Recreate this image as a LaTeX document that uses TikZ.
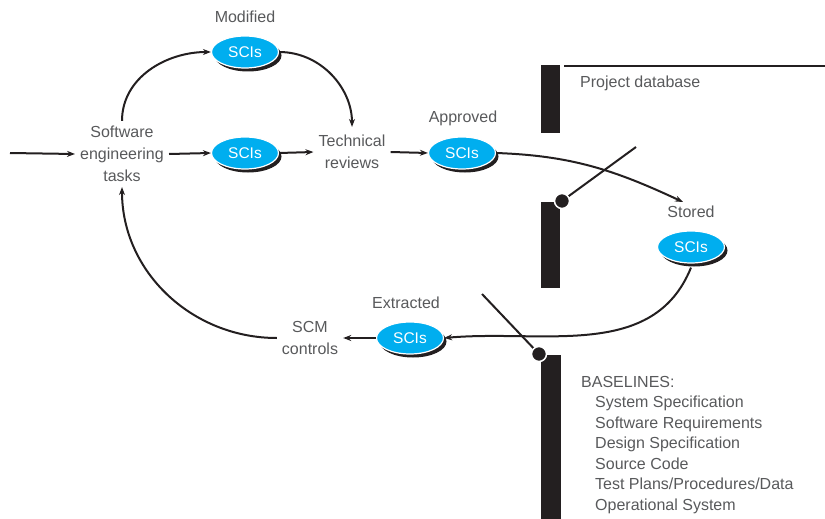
\documentclass[tikz,border=0pt]{standalone}
\usepackage{fontspec}
\setmainfont{Liberation Sans}
\usetikzlibrary{shapes.geometric,shadows,arrows.meta}
\definecolor{scicyan}{HTML}{00AEEF}
\definecolor{txtgray}{HTML}{58595B}
\definecolor{ink}{HTML}{231F20}
\begin{document}
\begin{tikzpicture}[x=1pt,y=-1pt,
 sci/.style={ellipse, fill=scicyan, draw=white, line width=1.2pt, minimum width=67pt, minimum height=32pt, inner sep=0pt, text=white, font=\fontsize{15.5}{15.5}\selectfont, drop shadow={shadow xshift=3pt, shadow yshift=-3.5pt, fill=ink, opacity=1}},
 lbl/.style={text=txtgray, font=\fontsize{16}{22}\selectfont, align=center, inner sep=5pt},
 arr/.style={draw=ink, line width=2pt, -{Stealth[length=8pt,width=6pt]}},
 bar/.style={fill=ink},
 swline/.style={draw=ink, line width=2pt},
 dot/.style={fill=ink, draw=white, line width=1.5pt},
]
\useasboundingbox (0,0) rectangle (825,519);

% database bars
\fill[bar] (541,65) rectangle (560,133);
\fill[bar] (541,202) rectangle (560,288);
\fill[bar] (541,355) rectangle (561,519);
\draw[swline] (564,66) -- (825,66);
\coordinate (sw1a) at (562,201);
\coordinate (sw1b) at (636,147);
\coordinate (sw2a) at (539,354);
\coordinate (sw2b) at (482,294);
\draw[swline] (sw1a) -- (sw1b);
\draw[swline] (sw2a) -- (sw2b);
\draw[dot] (sw1a) circle (7.5pt);
\draw[dot] (sw2a) circle (7.5pt);

\node[lbl, anchor=west, inner sep=0pt] (pdb) at (580,83) {Project database};
\node[lbl, anchor=north west, align=left, inner sep=0pt, font=\fontsize{16}{20.5}\selectfont] (bl) at (581,376)
 {BASELINES:\\
 \hspace*{14pt}System Specification\\
 \hspace*{14pt}Software Requirements\\
 \hspace*{14pt}Design Specification\\
 \hspace*{14pt}Source Code\\
 \hspace*{14pt}Test Plans/Procedures/Data\\
 \hspace*{14pt}Operational System};

% text nodes
\node[lbl] (sw) at (122,154) {Software\\engineering\\tasks};
\node[lbl] (tech) at (352,152) {Technical\\reviews};
\node[lbl] (scm) at (310,338) {SCM\\controls};

% SCI ellipses
\node[sci] (mid) at (245,153) {SCIs};
\node[sci] (mod) at (245,52) {SCIs};
\node[sci] (app) at (462,153) {SCIs};
\node[sci] (sto) at (691,247) {SCIs};
\node[sci] (ext) at (410,338) {SCIs};

\node[lbl, inner sep=0pt] (modl) at (245,17) {Modified};
\node[lbl, inner sep=0pt] (appl) at (463,118) {Approved};
\node[lbl, inner sep=0pt] (stol) at (691,212) {Stored};
\node[lbl, inner sep=0pt] (extl) at (406,303) {Extracted};

% connectors
\coordinate (start) at (10,153);
\coordinate (stend) at (683,202);
\draw[arr] (start) -- (sw.west);
\draw[arr] (sw.east) -- (mid.west);
\draw[arr] (mid.east) -- (tech.west);
\draw[arr] (tech.east) -- (app.west);
\draw[arr] (sw.north) to[out=90,in=180] (mod.west);
\draw[arr, shorten >=3pt] (mod.east) to[out=0,in=90] (tech.north);
\draw[arr] (app.east) to[out=-2,in=155] (stend);
\draw[arr] ([yshift=-4pt]sto.south) to[out=-112,in=5] (ext.east);
\draw[arr] (ext.west) -- (scm.east);
\draw[arr] (scm.west) to[out=180,in=-90] (sw.south);
\end{tikzpicture}
\end{document}
